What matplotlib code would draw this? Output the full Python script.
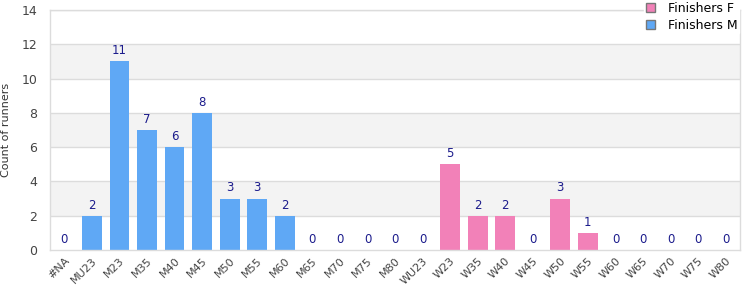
import matplotlib
matplotlib.use("Agg")
import matplotlib.pyplot as plt
from matplotlib.patches import Patch
import numpy as np

categories = ["#NA", "MU23", "M23", "M35", "M40", "M45", "M50", "M55", "M60",
              "M65", "M70", "M75", "M80", "WU23", "W23", "W35", "W40", "W45",
              "W50", "W55", "W60", "W65", "W70", "W75", "W80"]
# men's categories first (incl. #NA, WU23 shown as zero), women after
finishers_m = [0, 2, 11, 7, 6, 8, 3, 3, 2, 0, 0, 0, 0, 0]
finishers_f = [5, 2, 2, 0, 3, 1, 0, 0, 0, 0, 0]

col_m = "#5fa8f5"
col_f = "#f281b8"
lbl_col = "#1c1c8c"
grid_col = "#dcdcdc"

plt.rcParams["font.family"] = ["DejaVu Sans"]

fig = plt.figure(figsize=(7.5, 3), dpi=100)
ax = fig.add_axes([50 / 750, 50 / 300, 690 / 750, 240 / 300])

x = np.arange(len(categories))
xm = x[:len(finishers_m)]
xf = x[len(finishers_m):]

# alternating bands
for lo in (2, 6, 10):
    ax.axhspan(lo, lo + 2, color="#f3f3f3", zorder=0, lw=0)
for yv in range(2, 15, 2):
    ax.axhline(yv, color=grid_col, lw=1, zorder=0.5)

bm = ax.bar(xm, finishers_m, width=0.72, color=col_m, zorder=2)
bf = ax.bar(xf, finishers_f, width=0.72, color=col_f, zorder=2)

for xs, vals in ((xm, finishers_m), (xf, finishers_f)):
    for xi, v in zip(xs, vals):
        ax.annotate(str(v), xy=(xi, v), xytext=(0, 3), textcoords="offset points",
                    ha="center", va="bottom", fontsize=8.5, color=lbl_col)

ax.set_xlim(-0.52, len(categories) - 0.48)
ax.set_ylim(0, 14)
ax.set_yticks(range(0, 15, 2))
ax.set_xticks(x)
ax.set_xticklabels(categories, rotation=45, ha="right", rotation_mode="anchor",
                   fontsize=8, color="#444444")
ax.tick_params(axis="y", labelsize=9, labelcolor="#444444", length=0, pad=9)
ax.tick_params(axis="x", length=0, pad=4)
ax.set_ylabel("Count of runners", fontsize=8, color="#333333", labelpad=8)

for s in ("top", "right", "left", "bottom"):
    ax.spines[s].set_color(grid_col)
    ax.spines[s].set_linewidth(1)

handles = [Patch(facecolor=col_f, edgecolor="#777777", label="Finishers F"),
           Patch(facecolor=col_m, edgecolor="#777777", label="Finishers M")]
leg = fig.legend(handles=handles, loc="upper left", bbox_to_anchor=(644 / 750, 1.0),
                 fontsize=9, frameon=True, handlelength=0.75, handleheight=0.75,
                 handletextpad=1.0, labelspacing=0.35, borderpad=0.15,
                 borderaxespad=0.0)
leg.get_frame().set_edgecolor("white")
leg.get_frame().set_facecolor("white")
leg.get_frame().set_alpha(1)
leg.set_zorder(10)

fig.savefig("out.png", dpi=100)
